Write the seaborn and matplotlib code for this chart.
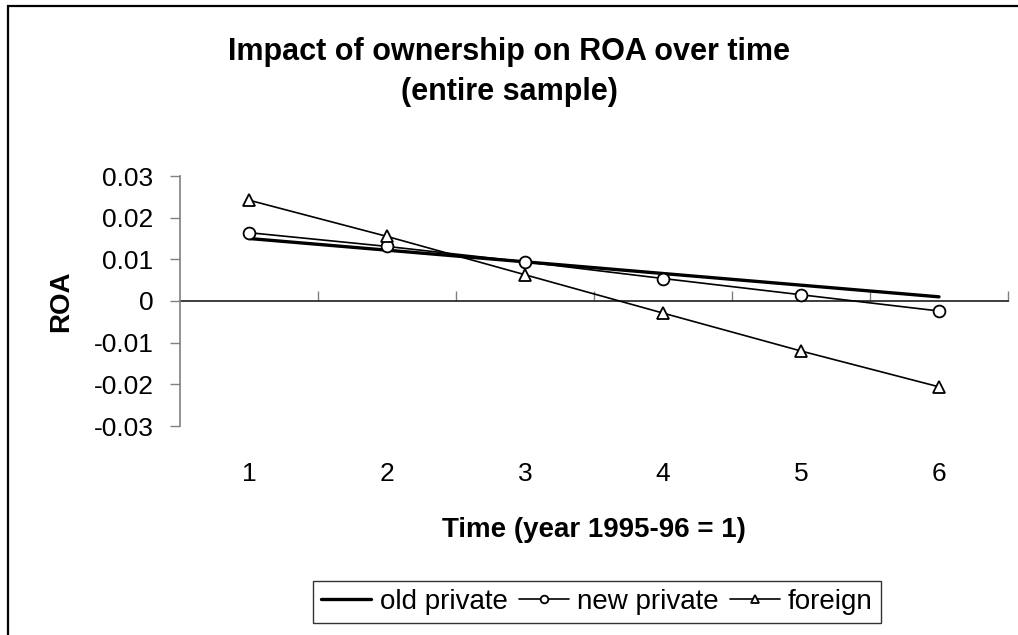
import matplotlib
matplotlib.use("Agg")
import matplotlib.pyplot as plt
import seaborn as sns
import pandas as pd

# data
time = [1, 2, 3, 4, 5, 6]
old_private = [0.0150, 0.0122, 0.0094, 0.0066, 0.0038, 0.0010]
new_private = [0.0164, 0.0131, 0.0094, 0.0054, 0.0015, -0.0024]
foreign = [0.0242, 0.0155, 0.0063, -0.0029, -0.0120, -0.0206]
y_ticks = [-0.03, -0.02, -0.01, 0, 0.01, 0.02, 0.03]
y_tick_labels = ["-0.03", "-0.02", "-0.01", "0", "0.01", "0.02", "0.03"]

sns.set_theme(style="white")
plt.rcParams['font.family'] = ['Liberation Sans', 'DejaVu Sans']
plt.rcParams['text.color'] = 'black'
plt.rcParams['axes.labelcolor'] = 'black'

fig = plt.figure(figsize=(10.18, 6.35), dpi=100)
ax = fig.add_axes([180 / 1018, 1 - 426 / 635, 828 / 1018, 250 / 635])

series = [
    ("old private", old_private, dict(lw=2.4, marker=None)),
    ("new private", new_private, dict(lw=1.2, marker="o")),
    ("foreign", foreign, dict(lw=1.2, marker="^")),
]
for name, vals, st in series:
    df = pd.DataFrame({"time": time, "roa": vals})
    sns.lineplot(data=df, x="time", y="roa", ax=ax, color="black", label=name,
                 lw=st["lw"], marker=st["marker"], markersize=8.5,
                 markerfacecolor="white", markeredgecolor="black", markeredgewidth=1.3)

ax.set_xlim(0.5, 6.5)
ax.set_ylim(-0.03, 0.03)
ax.set_yticks(y_ticks)
ax.set_yticklabels(y_tick_labels)
ax.set_xticks(time)
ax.set_xticklabels([str(t) for t in time])

for s in ["top", "right", "bottom"]:
    ax.spines[s].set_visible(False)
ax.spines["left"].set_color("#808080")
ax.spines["left"].set_linewidth(1.2)
ax.tick_params(axis="y", which="major", left=True, length=7, width=1, color="#808080",
               labelsize=19, pad=12, labelcolor="black")
ax.tick_params(axis="x", which="major", bottom=True, length=0, labelsize=19, pad=26,
               labelcolor="black")

# category axis crossing at zero, with ticks between categories
sec = ax.secondary_xaxis(0.5)
sec.set_xticks([1.5, 2.5, 3.5, 4.5, 5.5, 6.5])
sec.set_xticklabels([])
sec.tick_params(axis="x", length=7, width=1, color="#808080", direction="out")
sec.spines["bottom"].set_color("#606060")
sec.spines["bottom"].set_linewidth(1.2)

ax.set_xlabel("Time (year 1995-96 = 1)", fontsize=20, fontweight="bold", labelpad=22)
ax.set_ylabel("ROA", fontsize=20, fontweight="bold", labelpad=14)
fig.text(0.5, 1 - 72 / 635, "Impact of ownership on ROA over time\n(entire sample)",
         ha="center", va="center", fontsize=22, fontweight="bold", linespacing=1.45)

leg = ax.legend(loc="center", bbox_to_anchor=(597 / 1018, 1 - 602 / 635),
                bbox_transform=fig.transFigure, ncol=3, fontsize=20, frameon=True,
                fancybox=False, edgecolor="black", handlelength=1.8, handletextpad=0.3,
                columnspacing=0.4, borderpad=0.3)
leg.get_frame().set_linewidth(1.0)
for h in leg.legend_handles:
    h.set_markersize(5.5)

# outer chart border (extends past right and bottom edges)
fig.add_artist(plt.Rectangle((8 / 1018, -0.5), 1.5, 1.5 - 6 / 635,
                             transform=fig.transFigure, fill=False, edgecolor="black",
                             lw=1.6, clip_on=False))

fig.savefig("out.png", dpi=100, facecolor="white")
